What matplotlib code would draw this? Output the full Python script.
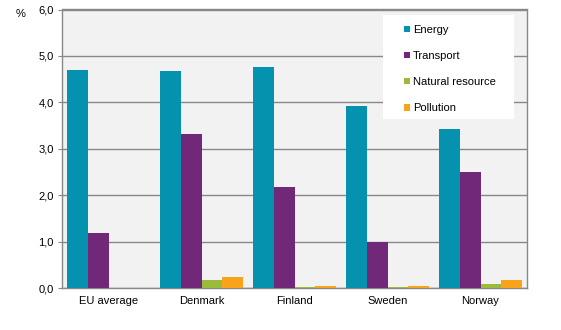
import numpy as np
import matplotlib.pyplot as plt
from matplotlib.patches import Rectangle

plt.rcParams['font.family'] = ['Liberation Sans', 'DejaVu Sans']

countries = ['EU average', 'Denmark', 'Finland', 'Sweden', 'Norway']
series = ['Energy', 'Transport', 'Natural resource', 'Pollution']
energy = [4.70, 4.68, 4.76, 3.92, 3.43]
transport = [1.19, 3.32, 2.18, 1.00, 2.50]
natural = [0.0, 0.17, 0.02, 0.02, 0.09]
pollution = [0.0, 0.24, 0.05, 0.05, 0.17]
colors = ['#0492ae', '#722878', '#9bbb3b', '#f9a31a']

yticks = [0, 1, 2, 3, 4, 5, 6]


def main():
    W, H = 561, 330
    fig = plt.figure(figsize=(W / 100, H / 100), dpi=100)
    ax = fig.add_axes([62 / W, 1 - 288 / H, 465 / W, 278.5 / H])
    ax.set_facecolor('#f2f2f2')

    x = np.arange(len(countries))
    w = 0.225
    data = [energy, transport, natural, pollution]
    for i, (vals, name, c) in enumerate(zip(data, series, colors)):
        ax.bar(x + (i - 1.5) * w, vals, w, color=c, label=name, zorder=3)

    ax.set_xlim(-0.5, len(countries) - 0.5)
    ax.set_ylim(0, 6)
    ax.set_yticks(yticks)
    ax.set_yticklabels([f'{v:.1f}'.replace('.', ',') for v in yticks],
                       fontsize=8)
    ax.set_xticks(x)
    ax.set_xticklabels(countries, fontsize=8)
    ax.tick_params(axis='x', length=0, pad=6)
    ax.tick_params(axis='y', length=3, color='#888888', pad=3)
    ax.yaxis.grid(True, color='#888888', linewidth=1, zorder=1)
    for s in ax.spines.values():
        s.set_color('#888888')
        s.set_linewidth(1)

    fig.text(21 / W, 1 - 14 / H, '%', fontsize=8, ha='center', va='center')

    # white legend box
    box = Rectangle((383 / W, 1 - 119 / H), 131 / W, 104 / H,
                    transform=fig.transFigure, facecolor='white',
                    edgecolor='none', zorder=4)
    fig.patches.append(box)

    leg = fig.legend(loc='upper left', bbox_to_anchor=(404 / W, 1 - 25 / H),
                     fontsize=8, frameon=False,
                     handlelength=0.5, handleheight=0.5, handletextpad=0.3,
                     labelspacing=1.45, borderpad=0, borderaxespad=0)
    leg.set_zorder(5)

    fig.savefig('out.png', dpi=100)


if __name__ == "__main__":
    main()
